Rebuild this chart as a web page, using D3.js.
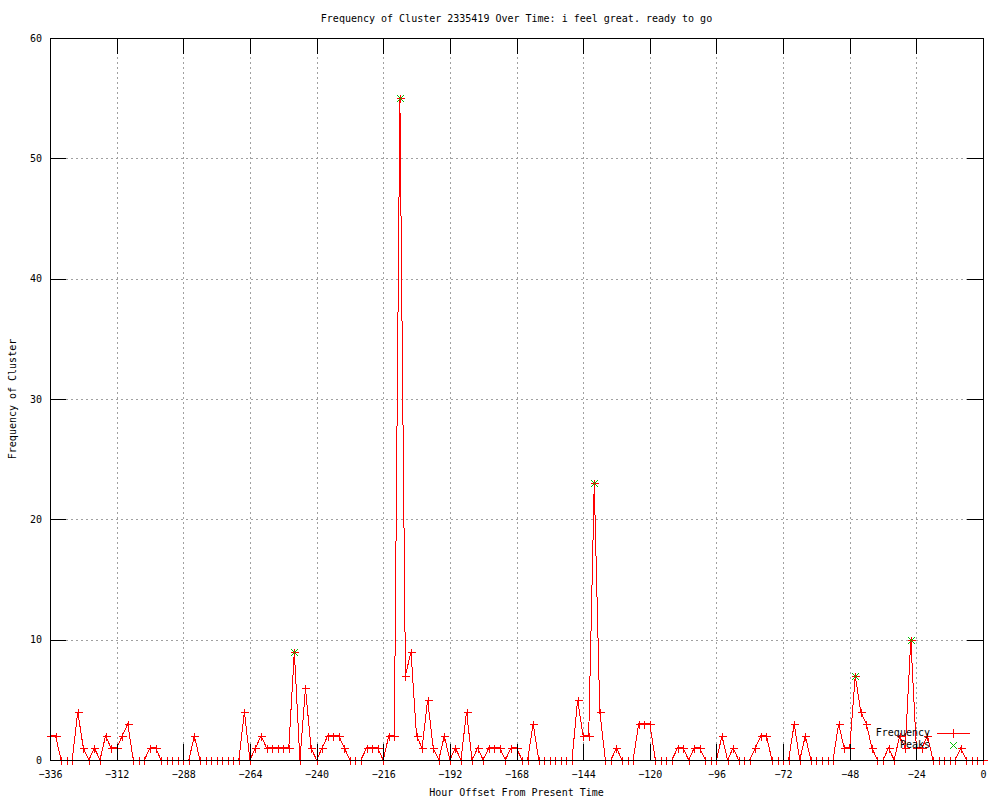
<!DOCTYPE html>
<html>
<head>
<meta charset="utf-8">
<script src="https://cdn.jsdelivr.net/npm/d3@7"></script>
<style>
  body { margin: 0; background: #fff; }
  text { font-family: "DejaVu Sans Mono", monospace; font-size: 10px; fill: #000; }
</style>
</head>
<body>
<script>
// datos ------------------------------------------------------------------------------------------
// una muestra cada 2 horas, desde -336 hasta 0
const HOURS = d3.range(-336, 1, 2);
const FREQUENCY = [
  2, 2, 0, 0, 0, 4, 1, 0, 1, 0, 2, 1,      // -336 .. -314
  1, 2, 3, 0, 0, 0, 1, 1, 0, 0, 0, 0,      // -312 .. -290
  0, 0, 2, 0, 0, 0, 0, 0, 0, 0, 0, 4,      // -288 .. -266
  0, 1, 2, 1, 1, 1, 1, 1, 9, 0, 6, 1,      // -264 .. -242
  0, 1, 2, 2, 2, 1, 0, 0, 0, 1, 1, 1,      // -240 .. -218
  0, 2, 2, 55, 7, 9, 2, 1, 5, 1, 0, 2,     // -216 .. -194
  0, 1, 0, 4, 0, 1, 0, 1, 1, 1, 0, 1,      // -192 .. -170
  1, 0, 0, 3, 0, 0, 0, 0, 0, 0, 0, 5,      // -168 .. -146
  2, 2, 23, 4, 0, 0, 1, 0, 0, 0, 3, 3,     // -144 .. -122
  3, 0, 0, 0, 0, 1, 1, 0, 1, 1, 0, 0,      // -120 .. -98
  0, 2, 0, 1, 0, 0, 0, 1, 2, 2, 0, 0,      // -96 .. -74
  0, 0, 3, 0, 2, 0, 0, 0, 0, 0, 3, 1,      // -72 .. -50
  1, 7, 4, 3, 1, 0, 0, 1, 0, 2, 1, 10,     // -48 .. -26
  1, 1, 2, 0, 0, 0, 0, 0, 1, 0, 0, 0,      // -24 .. -2
  0                                        // 0
];
const PEAK_HOURS = [-248, -210, -140, -46, -26];
const PEAK_VALUES = [9, 55, 23, 7, 10];

const X_TICKS = [-336, -312, -288, -264, -240, -216, -192, -168, -144, -120, -96, -72, -48, -24, 0];
const Y_TICKS = [0, 10, 20, 30, 40, 50, 60];

const TITLE = "Frequency of Cluster 2335419 Over Time: i feel great. ready to go";
const X_LABEL = "Hour Offset From Present Time";
const Y_LABEL = "Frequency of Cluster";

// medidas ----------------------------------------------------------------------------------------
const WIDTH = 1000;
const HEIGHT = 800;
const LEFT = 50, RIGHT = 983, TOP = 38, BOTTOM = 760;
const TIC = 16;
const RED = "#ff0000";
const GREEN = "#00c000";

const SVG = d3.select("body").append("svg")
  .attr("width", WIDTH).attr("height", HEIGHT);

const x = d3.scaleLinear().domain([-336, 0]).range([LEFT, RIGHT]);
const y = d3.scaleLinear().domain([0, 60]).range([BOTTOM, TOP]);

const datos = HOURS.map((h, i) => ({ h: h, v: FREQUENCY[i] }));
const picos = PEAK_HOURS.map((h, i) => ({ h: h, v: PEAK_VALUES[i] }));

const plus = (cx, cy, r) => `M${cx - r},${cy}H${cx + r}M${cx},${cy - r}V${cy + r}`;
const cross = (cx, cy, r) => `M${cx - r},${cy - r}L${cx + r},${cy + r}M${cx - r},${cy + r}L${cx + r},${cy - r}`;

// grilla -----------------------------------------------------------------------------------------
const grid = SVG.append("g")
  .attr("stroke", "#a0a0a0")
  .attr("stroke-dasharray", "2,3")
  .attr("shape-rendering", "crispEdges");

grid.selectAll(".gx")
  .data(X_TICKS.slice(1, -1))
  .join("line")
  .attr("x1", d => Math.round(x(d)) + 0.5).attr("x2", d => Math.round(x(d)) + 0.5)
  .attr("y1", BOTTOM - TIC).attr("y2", TOP + TIC);

grid.selectAll(".gy")
  .data(Y_TICKS.slice(1, -1))
  .join("line")
  .attr("y1", d => Math.round(y(d)) + 0.5).attr("y2", d => Math.round(y(d)) + 0.5)
  .attr("x1", LEFT + TIC).attr("x2", RIGHT - TIC);

// serie ------------------------------------------------------------------------------------------
const linea = d3.line().x(d => x(d.h)).y(d => y(d.v));

SVG.append("path")
  .datum(datos)
  .attr("d", linea)
  .attr("fill", "none")
  .attr("stroke", RED)
  .attr("stroke-width", 1)
  .attr("shape-rendering", "crispEdges");

SVG.append("g")
  .selectAll("path")
  .data(datos)
  .join("path")
  .attr("d", d => plus(Math.round(x(d.h)) + 0.5, Math.round(y(d.v)) + 0.5, 4))
  .attr("stroke", RED)
  .attr("fill", "none")
  .attr("shape-rendering", "crispEdges");

SVG.append("g")
  .selectAll("path")
  .data(picos)
  .join("path")
  .attr("d", d => cross(Math.round(x(d.h)) + 0.5, Math.round(y(d.v)) + 0.5, 3.5))
  .attr("stroke", GREEN)
  .attr("fill", "none");

// ejes -------------------------------------------------------------------------------------------
const ejeX = SVG.append("g")
  .attr("transform", `translate(0,${BOTTOM})`)
  .call(d3.axisBottom(x).tickValues(X_TICKS).tickSizeInner(-TIC).tickSizeOuter(0).tickPadding(11));

const ejeY = SVG.append("g")
  .attr("transform", `translate(${LEFT},0)`)
  .call(d3.axisLeft(y).tickValues(Y_TICKS).tickSizeInner(-TIC).tickSizeOuter(0).tickPadding(8));

const ejeTop = SVG.append("g")
  .attr("transform", `translate(0,${TOP})`)
  .call(d3.axisTop(x).tickValues(X_TICKS).tickSizeInner(-TIC).tickSizeOuter(0).tickFormat(""));

const ejeRight = SVG.append("g")
  .attr("transform", `translate(${RIGHT},0)`)
  .call(d3.axisRight(y).tickValues(Y_TICKS).tickSizeInner(-TIC).tickSizeOuter(0).tickFormat(""));

[ejeX, ejeY, ejeTop, ejeRight].forEach(g => {
  g.select(".domain").remove();
  g.selectAll("line").attr("stroke", "#000").attr("shape-rendering", "crispEdges");
  g.attr("font-family", null).attr("font-size", null);
});

SVG.append("rect")
  .attr("x", LEFT + 0.5).attr("y", TOP + 0.5)
  .attr("width", RIGHT - LEFT).attr("height", BOTTOM - TOP)
  .attr("fill", "none")
  .attr("stroke", "#000")
  .attr("shape-rendering", "crispEdges");

// textos -----------------------------------------------------------------------------------------
SVG.append("text")
  .attr("x", (LEFT + RIGHT) / 2)
  .attr("y", 19)
  .attr("text-anchor", "middle")
  .attr("dominant-baseline", "middle")
  .text(TITLE);

SVG.append("text")
  .attr("x", (LEFT + RIGHT) / 2)
  .attr("y", 793)
  .attr("text-anchor", "middle")
  .attr("dominant-baseline", "middle")
  .text(X_LABEL);

SVG.append("text")
  .attr("transform", `translate(13,${(TOP + BOTTOM) / 2}) rotate(-90)`)
  .attr("text-anchor", "middle")
  .attr("dominant-baseline", "middle")
  .text(Y_LABEL);

// leyenda ----------------------------------------------------------------------------------------
const leyenda = SVG.append("g");

leyenda.append("text")
  .attr("x", 930).attr("y", 733)
  .attr("text-anchor", "end")
  .attr("dominant-baseline", "middle")
  .text("Frequency");

leyenda.append("rect")
  .attr("x", 937).attr("y", 733)
  .attr("width", 33).attr("height", 1)
  .attr("fill", RED);

leyenda.append("rect")
  .attr("x", 953).attr("y", 729)
  .attr("width", 1).attr("height", 9)
  .attr("fill", RED);

leyenda.append("text")
  .attr("x", 930).attr("y", 745)
  .attr("text-anchor", "end")
  .attr("dominant-baseline", "middle")
  .text("Peaks");

leyenda.append("path")
  .attr("d", cross(953.5, 745.5, 3.5))
  .attr("stroke", GREEN)
  .attr("fill", "none");
</script>
</body>
</html>
